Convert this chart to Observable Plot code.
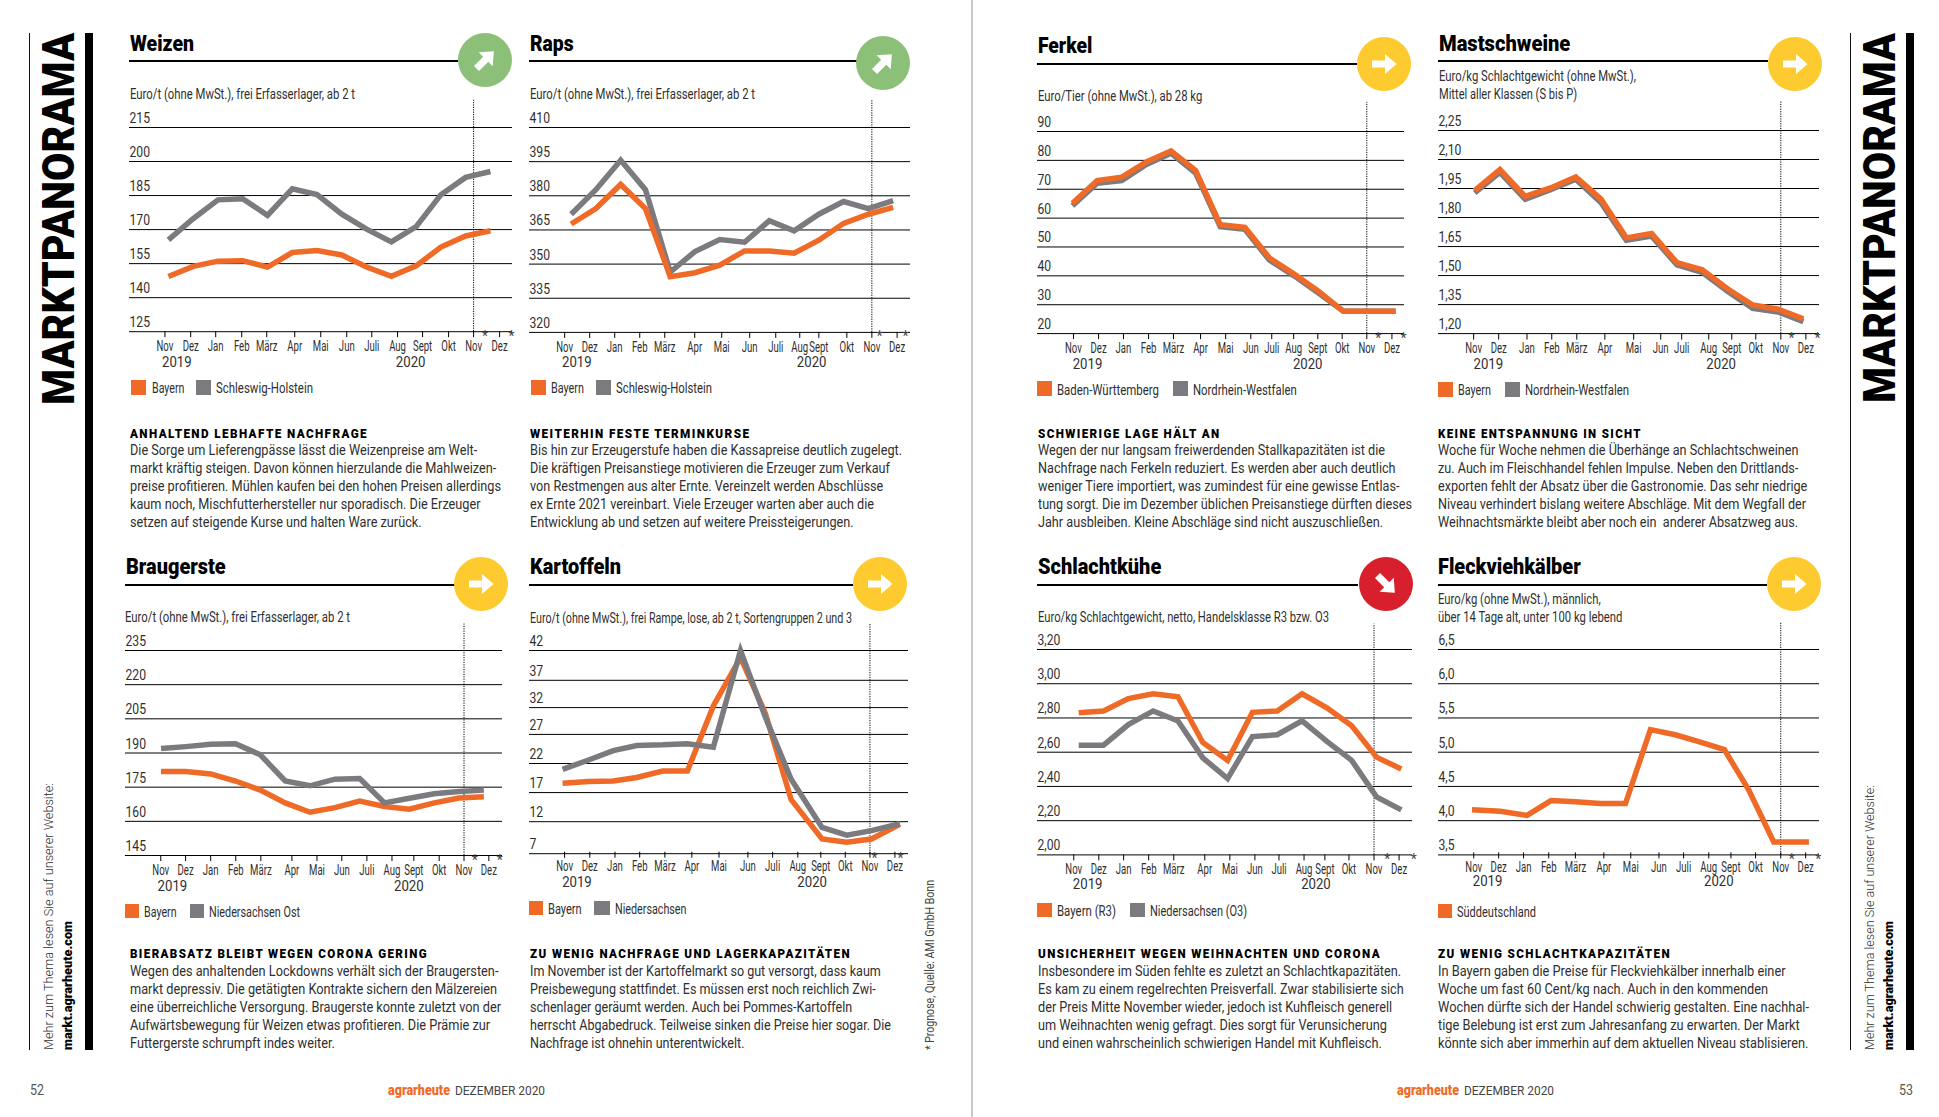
<!DOCTYPE html>
<html lang="de">
<head>
<meta charset="utf-8">
<title>Marktpanorama</title>
<script src="https://cdn.jsdelivr.net/npm/d3@7"></script>
<script src="https://cdn.jsdelivr.net/npm/@observablehq/plot@0.6"></script>
<style>
html,body{margin:0;padding:0;background:#fff;}
#page{position:relative;width:1939px;height:1117px;overflow:hidden;background:#fff;font-family:Roboto,sans-serif;color:#2f2f2f;}
#page .t{position:absolute;white-space:pre;line-height:1;transform-origin:0 0;}
#page .b{position:absolute;}
#page .c{position:absolute;}
</style>
</head>
<body>
<div id="page"></div>
<script>
// ---------- data ----------
const months = ["Nov","Dez","Jan","Feb","März","Apr","Mai","Jun","Juli","Aug","Sept","Okt","Nov","Dez"];
const idx = [0,1,2,3,4,5,6,7,8,9,10,11,12,13];

const weizenBayern = [149.3,153.8,156.1,156.3,153.5,159.9,160.8,158.8,153.5,149.4,154,162.3,167.2,169.5];
const weizenSH     = [165.5,174.8,183.1,183.6,176.3,188,185.4,176.8,170.2,164.6,171.3,185.4,193,195.6];
const weizenTicks  = [215,200,185,170,155,140,125];
const weizenMonths = [-0.14,0.9,1.91,2.96,3.97,5.1,6.15,7.2,8.21,9.25,10.26,11.31,12.32,13.37];

const rapsBayern = [367.6,374.4,385,374.4,344.5,346.2,349.5,355.8,355.8,354.8,360.5,367.9,371.9,374.9];
const rapsSH     = [371.9,382.7,395.6,382.7,346.5,355.5,360.8,359.6,369.1,364.6,371.9,377.5,374.4,377.9];
const rapsTicks  = [410,395,380,365,350,335,320];
const rapsMonths = [-0.26,0.75,1.76,2.77,3.78,4.99,6.08,7.21,8.26,9.23,10,11.13,12.14,13.16];

const brauBayern = [181.9,181.9,180.8,177.7,173.7,168.1,164,166,168.9,166.5,165.3,168.1,170.2,170.8];
const brauNds    = [192,192.8,193.8,194.1,189.2,177.7,175.6,178.5,178.8,168.1,170.1,172.1,173.1,173.7];
const brauTicks  = [235,220,205,190,175,160,145];
const brauMonths = [-0.01,0.99,2,3.01,4.02,5.27,6.28,7.28,8.29,9.3,10.18,11.2,12.2,13.2];

const kartBayern = [18.6,18.9,19,19.6,20.7,20.7,32.3,40.8,31,15.8,9.3,8.8,9.3,11.6];
const kartNds    = [21,22.6,24.2,25.1,25.2,25.4,24.8,42,30.3,19.3,11.1,9.9,10.6,11.7];
const kartTicks  = [42,37,32,27,22,17,12,7];
const kartAt     = [0,1.05,2.05,3,4.05,5.05,6.1,7.2,8.2,9.25,10.5,11.5,12.5,13.65];
const kartMonths = [0.08,1.1,2.12,3.12,4.14,5.23,6.33,7.5,8.5,9.52,10.45,11.44,12.44,13.45];

const ferkelBW  = [65.1,73,74.2,79.5,83.3,76.5,57.7,56.8,46.2,40.6,34.6,27.7,27.7,27.7];
const ferkelNRW = [64.3,72.1,73,78.6,82.5,75.6,57,56.1,45.4,40,34,27.7,27.7,27.7];
const ferkelTicks  = [90,80,70,60,50,40,30,20];
const ferkelAt     = [0,1,2,3,4,5,6,7,8,9,10,11,12,13.12];
const ferkelMonths = [0.04,1.06,2.07,3.09,4.1,5.2,6.22,7.24,8.09,8.98,9.96,10.95,11.95,12.97];

const mastBayern = [1.939,2.048,1.909,1.953,2.01,1.895,1.695,1.718,1.567,1.53,1.432,1.348,1.326,1.277];
const mastNRW    = [1.927,2.033,1.895,1.944,1.998,1.877,1.683,1.704,1.556,1.517,1.419,1.33,1.312,1.262];
const mastTicks  = [2.25,2.10,1.95,1.80,1.65,1.50,1.35,1.20];
const mastMonths = [-0.04,0.95,2.07,3.05,4.04,5.15,6.29,7.36,8.19,9.26,10.17,11.12,12.11,13.1];

const kuhBayern = [2.83,2.841,2.913,2.941,2.924,2.657,2.552,2.833,2.841,2.941,2.859,2.754,2.571,2.502];
const kuhNds    = [2.641,2.641,2.761,2.841,2.783,2.567,2.446,2.691,2.702,2.783,2.663,2.552,2.339,2.263];
const kuhTicks  = [3.20,3.00,2.80,2.60,2.40,2.20,2.00];
const kuhMonths = [-0.2,0.81,1.81,2.82,3.83,5.08,6.09,7.1,8.07,9.08,9.92,10.89,11.9,12.91];

const kalbSued   = [4.158,4.136,4.076,4.293,4.277,4.25,4.25,5.33,5.255,5.147,5.038,4.446,3.688,3.688];
const kalbTicks  = [6.5,6.0,5.5,5.0,4.5,4.0,3.5];
const kalbAt     = [0,1.12,2.19,3.14,4.11,5.1,6.1,7.09,8.08,9.08,10.03,11,11.99,13.39];
const kalbMonths = [0.07,1.06,2.05,3.05,4.11,5.24,6.31,7.43,8.41,9.41,10.29,11.27,12.27,13.26];

const ORANGE = "#ef6a26", GRAY = "#7b7a7e", GREEN = "#8cbf78", YELLOW = "#fdcb2f", RED = "#d81f2e";

// ---------- panels (layout in page pixels) ----------
const panels = [
 {title:"Weizen",tx:130,tb:50.6,tw:64,rule:[129,458,61],circle:[485.1,60.3,GREEN,-45],
  sub:[["Euro/t (ohne MwSt.), frei Erfasserlager, ab 2 t",129.8,95.4,225]],
  left:129.1,w:383,xd:[-1.57,13.89],top:127.4,bot:331.6,ticks:weizenTicks,dec:0,monthsAt:weizenMonths,dotTop:227,
  a:weizenBayern,b:weizenSH,years:[.34,9.78],stars:[12.78,13.85],
  legend:{cy:389.5,sy:380,items:[["Bayern",131,146,151.5,184,ORANGE],["Schleswig-Holstein",196,210.6,215.7,312.7,GRAY]]},
  head:"ANHALTEND LEBHAFTE NACHFRAGE",hx:129.5,hy:433.2,hw:238,bw:371,ly:[451,469,487,505,523],
  body:["Die Sorge um Lieferengpässe lässt die Weizenpreise am Welt-","markt kräftig steigen. Davon können hierzulande die Mahlweizen-","preise profitieren. Mühlen kaufen bei den hohen Preisen allerdings","kaum noch, Mischfutterhersteller nur sporadisch. Die Erzeuger","setzen auf steigende Kurse und halten Ware zurück."]},
 {title:"Raps",tx:529.6,tb:50.6,tw:43.6,rule:[529,856.5,61],circle:[882.5,63,GREEN,-45],orangeTop:true,
  sub:[["Euro/t (ohne MwSt.), frei Erfasserlager, ab 2 t",529.6,95.4,225]],
  left:529.3,w:381,xd:[-1.68,13.7],top:127.4,bot:332.3,ticks:rapsTicks,dec:0,monthsAt:rapsMonths,dotTop:422,
  a:rapsBayern,b:rapsSH,years:[.23,9.71],stars:[12.45,13.5],
  legend:{cy:389.5,sy:380,items:[["Bayern",531,546,551,584,ORANGE],["Schleswig-Holstein",596,611,616,712,GRAY]]},
  head:"WEITERHIN FESTE TERMINKURSE",hx:529.6,hy:433.2,hw:220.4,bw:372,ly:[451,469,487,505,523],
  body:["Bis hin zur Erzeugerstufe haben die Kassapreise deutlich zugelegt.","Die kräftigen Preisanstiege motivieren die Erzeuger zum Verkauf","von Restmengen aus alter Ernte. Vereinzelt werden Abschlüsse","ex Ernte 2021 vereinbart. Viele Erzeuger warten aber auch die","Entwicklung ab und setzen auf weitere Preissteigerungen."]},
 {title:"Braugerste",tx:125.8,tb:573.9,tw:99.7,rule:[125,455,585],circle:[481.4,584.2,YELLOW,0],
  sub:[["Euro/t (ohne MwSt.), frei Erfasserlager, ab 2 t",125.4,618.4,225]],
  left:125,w:377,xd:[-1.43,13.75],top:650.4,bot:855.4,ticks:brauTicks,dec:0,monthsAt:brauMonths,dotTop:246.6,
  a:brauBayern,b:brauNds,years:[.46,9.98],stars:[12.63,13.64],
  legend:{cy:913,sy:904.4,items:[["Bayern",125,139,144.4,177,ORANGE],["Niedersachsen Ost",190,204,209,300,GRAY]]},
  head:"BIERABSATZ BLEIBT WEGEN CORONA GERING",hx:129.5,hy:954,hw:298,bw:371,ly:[971.7,989.8,1007.8,1025.8,1043.8],
  body:["Wegen des anhaltenden Lockdowns verhält sich der Braugersten-","markt depressiv. Die getätigten Kontrakte sichern den Mälzereien","eine überreichliche Versorgung. Braugerste konnte zuletzt von der","Aufwärtsbewegung für Weizen etwas profitieren. Die Prämie zur","Futtergerste schrumpft indes weiter."]},
 {title:"Kartoffeln",tx:529.6,tb:573.9,tw:91,rule:[529,853,585],circle:[880.2,584.2,YELLOW,0],
  sub:[["Euro/t (ohne MwSt.), frei Rampe, lose, ab 2 t, Sortengruppen 2 und 3",529.6,619.1,322]],
  left:529.3,w:379,xd:[-1.34,14],top:650.4,bot:853.6,ticks:kartTicks,dec:0,monthsAt:kartMonths,dotTop:46.4,at:kartAt,mdy:-1.5,ydy:33,
  yRows:[40,69.8,97.1,123.9,153,182.1,211.2,243.2],
  a:kartBayern,b:kartNds,years:[.58,10.1],stars:[12.62,13.68],
  legend:{cy:910,sy:901.4,items:[["Bayern",529,543,548,581.7,ORANGE],["Niedersachsen",594,610,615,686.5,GRAY]]},
  head:"ZU WENIG NACHFRAGE UND LAGERKAPAZITÄTEN",hx:529.6,hy:954,hw:321,bw:361,ly:[971.7,989.8,1007.8,1025.8,1043.8],
  body:["Im November ist der Kartoffelmarkt so gut versorgt, dass kaum","Preisbewegung stattfindet. Es müssen erst noch reichlich Zwi-","schenlager geräumt werden. Auch bei Pommes-Kartoffeln","herrscht Abgabedruck. Teilweise sinken die Preise hier sogar. Die","Nachfrage ist ohnehin unterentwickelt."]},
 {title:"Ferkel",tx:1038.3,tb:52.7,tw:54.3,rule:[1037,1357,63.7],circle:[1384.3,64,YELLOW,0],orangeTop:true,
  sub:[["Euro/Tier (ohne MwSt.), ab 28 kg",1038.3,97.5,164.3]],
  left:1037.3,w:367,xd:[-1.42,13.48],top:131.2,bot:333.3,ticks:ferkelTicks,dec:0,monthsAt:ferkelMonths,dotTop:100.1,at:ferkelAt,
  a:ferkelBW,b:ferkelNRW,years:[.61,9.55],stars:[12.41,13.44],
  legend:{cy:391,sy:381,items:[["Baden-Württemberg",1037.3,1052,1057,1159,ORANGE],["Nordrhein-Westfalen",1173,1188,1193,1296.7,GRAY]]},
  head:"SCHWIERIGE LAGE HÄLT AN",hx:1038.3,hy:433.2,hw:182.7,bw:374,ly:[451,469,487,505,523],
  body:["Wegen der nur langsam freiwerdenden Stallkapazitäten ist die","Nachfrage nach Ferkeln reduziert. Es werden aber auch deutlich","weniger Tiere importiert, was zumindest für eine gewisse Entlas-","tung sorgt. Die im Dezember üblichen Preisanstiege dürften dieses","Jahr ausbleiben. Kleine Abschläge sind nicht auszuschließen."]},
 {title:"Mastschweine",tx:1439.3,tb:50.6,tw:131.3,rule:[1438,1768,61],circle:[1794.7,64,YELLOW,0],orangeTop:true,
  sub:[["Euro/kg Schlachtgewicht (ohne MwSt.),",1439,77.5,197],["Mittel aller Klassen (S bis P)",1439,95.4,138]],
  left:1438.3,w:381,xd:[-1.43,13.64],top:130.2,bot:333.3,ticks:mastTicks,dec:2,monthsAt:mastMonths,dotTop:2.40,mdy:0.5,
  a:mastBayern,b:mastNRW,years:[.54,9.75],stars:[12.53,13.56],
  legend:{cy:391,sy:382,items:[["Bayern",1438,1453,1458,1491,ORANGE],["Nordrhein-Westfalen",1505,1519.7,1525,1629,GRAY]]},
  head:"KEINE ENTSPANNUNG IN SICHT",hx:1438.3,hy:433.2,hw:204,bw:369.3,ly:[451,469,487,505,523],
  body:["Woche für Woche nehmen die Überhänge an Schlachtschweinen","zu. Auch im Fleischhandel fehlen Impulse. Neben den Drittlands-","exporten fehlt der Absatz über die Gastronomie. Das sehr niedrige","Niveau verhindert bislang weitere Abschläge. Mit dem Wegfall der","Weihnachtsmärkte bleibt aber noch ein  anderer Absatzweg aus."]},
 {title:"Schlachtkühe",tx:1038.3,tb:573.9,tw:123.3,rule:[1037,1358,585],circle:[1385.7,584.2,RED,45],
  sub:[["Euro/kg Schlachtgewicht, netto, Handelsklasse R3 bzw. O3",1038,618,291]],
  left:1037.3,w:375,xd:[-1.66,13.45],top:649.3,bot:854.7,ticks:kuhTicks,dec:2,monthsAt:kuhMonths,dotTop:3.348,ydy:34,
  a:kuhBayern,b:kuhNds,years:[.36,9.56],stars:[12.43,13.5],
  legend:{cy:912,sy:903,items:[["Bayern (R3)",1037,1052,1057,1116,ORANGE],["Niedersachsen (O3)",1130,1145,1150,1247,GRAY]]},
  head:"UNSICHERHEIT WEGEN WEIHNACHTEN UND CORONA",hx:1038.3,hy:954,hw:343,bw:365.7,ly:[971.7,989.8,1007.8,1025.8,1043.8],
  body:["Insbesondere im Süden fehlte es zuletzt an Schlachtkapazitäten.","Es kam zu einem regelrechten Preisverfall. Zwar stabilisierte sich","der Preis Mitte November wieder, jedoch ist Kuhfleisch generell","um Weihnachten wenig gefragt. Dies sorgt für Verunsicherung","und einen wahrscheinlich schwierigen Handel mit Kuhfleisch."]},
 {title:"Fleckviehkälber",tx:1438.3,tb:573.9,tw:142.7,rule:[1438,1767,585],circle:[1793.7,584.2,YELLOW,0],
  sub:[["Euro/kg (ohne MwSt.), männlich,",1438.3,600.4,162.7],["über 14 Tage alt, unter 100 kg lebend",1438.3,618.4,184.3]],
  left:1438.3,w:381,xd:[-1.33,13.81],top:649.3,bot:854.7,ticks:kalbTicks,dec:1,monthsAt:kalbMonths,dotTop:6.884,at:kalbAt,mdy:-2,ydy:31,
  a:kalbSued,b:null,years:[.62,9.81],stars:[12.71,13.76],
  legend:{cy:913,sy:904.4,items:[["Süddeutschland",1438,1452,1457,1536,ORANGE]]},
  head:"ZU WENIG SCHLACHTKAPAZITÄTEN",hx:1438.3,hy:954,hw:233,bw:371,ly:[971.7,989.8,1007.8,1025.8,1043.8],
  body:["In Bayern gaben die Preise für Fleckviehkälber innerhalb einer","Woche um fast 60 Cent/kg nach. Auch in den kommenden","Wochen dürfte sich der Handel schwierig gestalten. Eine nachhal-","tige Belebung ist erst zum Jahresanfang zu erwarten. Der Markt","könnte sich aber immerhin auf dem aktuellen Niveau stablisieren."]}
];

// ---------- helpers ----------
const page = document.getElementById("page");
function txt(str,o){
  const e=document.createElement("div");e.className="t";e.textContent=str;
  e.style.fontSize=o.fs+"px";e.style.fontWeight=o.weight||400;e.style.color=o.color||"#2f2f2f";
  if(o.ls)e.style.letterSpacing=o.ls;
  page.appendChild(e);
  const natural=e.getBoundingClientRect().width;
  const k=o.k!==undefined?o.k:(o.w?o.w/natural:1);
  e.style.left=o.x+"px";
  if(o.rot){ // runs upward from o.y, o.x is the left edge of the em box
    e.style.top=o.y+"px";
    e.style.transform=`rotate(-90deg) scaleX(${k})`;
  }else{
    e.style.top=(o.cy!==undefined?o.cy-0.49*o.fs:o.base-0.841*o.fs)+"px";
    e.style.transform=`scaleX(${k})`;
  }
  return natural;
}
function box(x,y,w,h,c){const e=document.createElement("div");e.className="b";
  e.style.cssText=`left:${x}px;top:${y}px;width:${w}px;height:${h}px;background:${c}`;page.appendChild(e);}
function circle(cx,cy,fill,rot){
  const r=27,s=document.createElementNS("http://www.w3.org/2000/svg","svg");
  s.setAttribute("width",2*r);s.setAttribute("height",2*r);s.setAttribute("viewBox",`${-r} ${-r} ${2*r} ${2*r}`);
  s.setAttribute("class","c");s.style.left=(cx-r)+"px";s.style.top=(cy-r)+"px";
  s.innerHTML=`<circle r="${r}" fill="${fill}"/><polygon fill="#fff" transform="rotate(${rot})" points="-12,-3.6 1,-3.6 1,-10 12.5,0 1,10 1,3.6 -12,3.6"/>`;
  page.appendChild(s);
}
function condense(svg){
  // narrow the axis lettering to the condensed look of the print layout
  svg.querySelectorAll("text").forEach(t=>{
    const s=t.textContent;
    const k=s==="*"?1:/^[0-9]{4}$/.test(s)?0.91:/^[0-9,]+$/.test(s)?0.84:0.66;
    t.setAttribute("lengthAdjust","spacingAndGlyphs");
    t.setAttribute("textLength",t.getComputedTextLength()*k);
  });
}

// ---------- page furniture ----------
box(971,0,2,1117,"#c9c9c9");
box(29,33,1,1017,"#111"); box(84.5,33,8.2,1017,"#000");
box(1850,33,1,1017,"#111"); box(1906,33,8.2,1017,"#000");
txt("MARKTPANORAMA",{x:36,y:405,fs:45,weight:900,w:372,rot:true,color:"#000"});
txt("MARKTPANORAMA",{x:1857,y:403,fs:45,weight:900,w:370,rot:true,color:"#000"});
txt("Mehr zum Thema lesen Sie auf unserer Website:",{x:42,y:1050,fs:13.5,weight:300,w:267,rot:true});
txt("markt.agrarheute.com",{x:61,y:1050,fs:13,weight:900,w:129,rot:true,color:"#000"});
txt("Mehr zum Thema lesen Sie auf unserer Website:",{x:1863,y:1050,fs:13.5,weight:300,w:265,rot:true});
txt("markt.agrarheute.com",{x:1882,y:1050,fs:13,weight:900,w:129,rot:true,color:"#000"});
txt("* Prognose, Quelle: AMI GmbH Bonn",{x:923.5,y:1050,fs:12.5,w:170,rot:true,color:"#444"});
txt("52",{x:30,cy:1090,fs:14,w:14,color:"#555"});
txt("53",{x:1898.7,cy:1090,fs:14,w:14,color:"#555"});
txt("agrarheute",{x:388,cy:1089.5,fs:14,weight:900,w:62,color:ORANGE});
txt("DEZEMBER 2020",{x:455,cy:1090,fs:13,w:90,color:"#444"});
txt("agrarheute",{x:1397,cy:1089.5,fs:14,weight:900,w:62,color:ORANGE});
txt("DEZEMBER 2020",{x:1464,cy:1090,fs:13,w:90,color:"#444"});

// ---------- panels ----------
for(const p of panels){
  txt(p.title,{x:p.tx,base:p.tb,fs:22.5,weight:900,w:p.tw,color:"#000"});
  box(p.rule[0],p.rule[2]-1,p.rule[1]-p.rule[0],2,"#000");
  circle(p.circle[0],p.circle[1],p.circle[2],p.circle[3]);
  p.sub.forEach(s=>txt(s[0],{x:s[1],cy:s[2],fs:14.5,w:s[3]}));
  p.legend.items.forEach(i=>{
    box(i[1],p.legend.sy,i[2]-i[1],p.legend.sy<500?15:14,i[5]);
    txt(i[0],{x:i[3],cy:p.legend.cy,fs:14.5,w:i[4]-i[3]});
  });
  txt(p.head,{x:p.hx,cy:p.hy,fs:13.5,weight:900,ls:"0.12em",w:p.hw,color:"#000"});
  // body: one common squeeze for the block, from its longest line
  const probe=document.createElement("span");probe.style.cssText="position:absolute;visibility:hidden;white-space:pre;font-size:15.5px;font-weight:400";
  page.appendChild(probe);
  const maxW=Math.max(...p.body.map(l=>{probe.textContent=l;return probe.getBoundingClientRect().width;}));
  probe.remove();
  p.body.forEach((l,i)=>txt(l,{x:p.hx,cy:p.ly[i],fs:15.5,k:p.bw/maxW}));

  // chart
  const mt=40,mb=50,h=p.bot-p.top;
  const at=p.at||idx;
  const fmt=d=>d.toFixed(p.dec).replace(".",",");
  const lineOpts=c=>({x:at,y:d=>d,stroke:c,strokeWidth:5.5,strokeLinejoin:"miter",strokeMiterlimit:4,strokeLinecap:"butt"});
  const lines=[];
  if(p.b){
    if(p.orangeTop){lines.push(Plot.line(p.b,lineOpts(GRAY)),Plot.line(p.a,lineOpts(ORANGE)));}
    else{lines.push(Plot.line(p.a,lineOpts(ORANGE)),Plot.line(p.b,lineOpts(GRAY)));}
  }else lines.push(Plot.line(p.a,lineOpts(ORANGE)));
  const nov=p.monthsAt[12];
  const yMin=p.ticks[p.ticks.length-1];
  // the printed grid of Kartoffeln is unevenly spaced: a piecewise value transform reproduces it
  const rows=p.yRows;
  const yScale=rows
    ?{transform:d3.scaleLinear().domain([...p.ticks].reverse()).range([...rows].reverse()),domain:[rows[rows.length-1],rows[0]],range:[rows[rows.length-1],rows[0]]}
    :{domain:[yMin,p.ticks[0]],range:[mt+h,mt]};
  // the axis takes its ticks in the scale's own (transformed) space
  const yAxisTicks=rows||p.ticks;
  const yAxisFmt=rows?(d=>String(p.ticks[rows.indexOf(d)])):fmt;
  const svg=Plot.plot({
    width:p.w,height:mt+h+mb,marginLeft:0,marginRight:0,marginTop:mt,marginBottom:mb,
    style:{background:"transparent",fontFamily:"Roboto,sans-serif",fontSize:"14.5px",color:"#2f2f2f",overflow:"visible"},
    x:{domain:p.xd,range:[0,p.w]},
    y:yScale,
    marks:[
      Plot.ruleY(p.ticks,{stroke:"#000",strokeWidth:1}),
      Plot.ruleX([nov],{y1:yMin,y2:p.dotTop,stroke:"#000",strokeWidth:1,strokeDasharray:"1.2 1.2"}),
      ...lines,
      Plot.axisY({ticks:yAxisTicks,anchor:"left",tickSize:0,tickPadding:0,textAnchor:"start",lineAnchor:"bottom",dy:-4.5,tickFormat:yAxisFmt,label:null,fill:"#2f2f2f"}),
      Plot.axisX({ticks:p.monthsAt,anchor:"bottom",tickSize:6,tickPadding:3,dy:p.mdy||0,tickFormat:d=>months[p.monthsAt.indexOf(d)],label:null,stroke:"#000",fill:"#2f2f2f"}),
      Plot.text(p.years,{x:d=>d,text:(d,i)=>["2019","2020"][i],frameAnchor:"bottom",dy:p.ydy||35,fontSize:14.5,fill:"#2f2f2f"}),
      Plot.text(p.stars,{x:d=>d,text:()=>"*",frameAnchor:"bottom",dy:9,fontSize:14,fill:"#444"})
    ]
  });
  const wrap=document.createElement("div");
  wrap.style.cssText=`position:absolute;left:${p.left}px;top:${p.top-mt}px;width:${p.w}px;`;
  wrap.appendChild(svg);
  page.appendChild(wrap);
  condense(svg);
}
</script>
</body>
</html>
